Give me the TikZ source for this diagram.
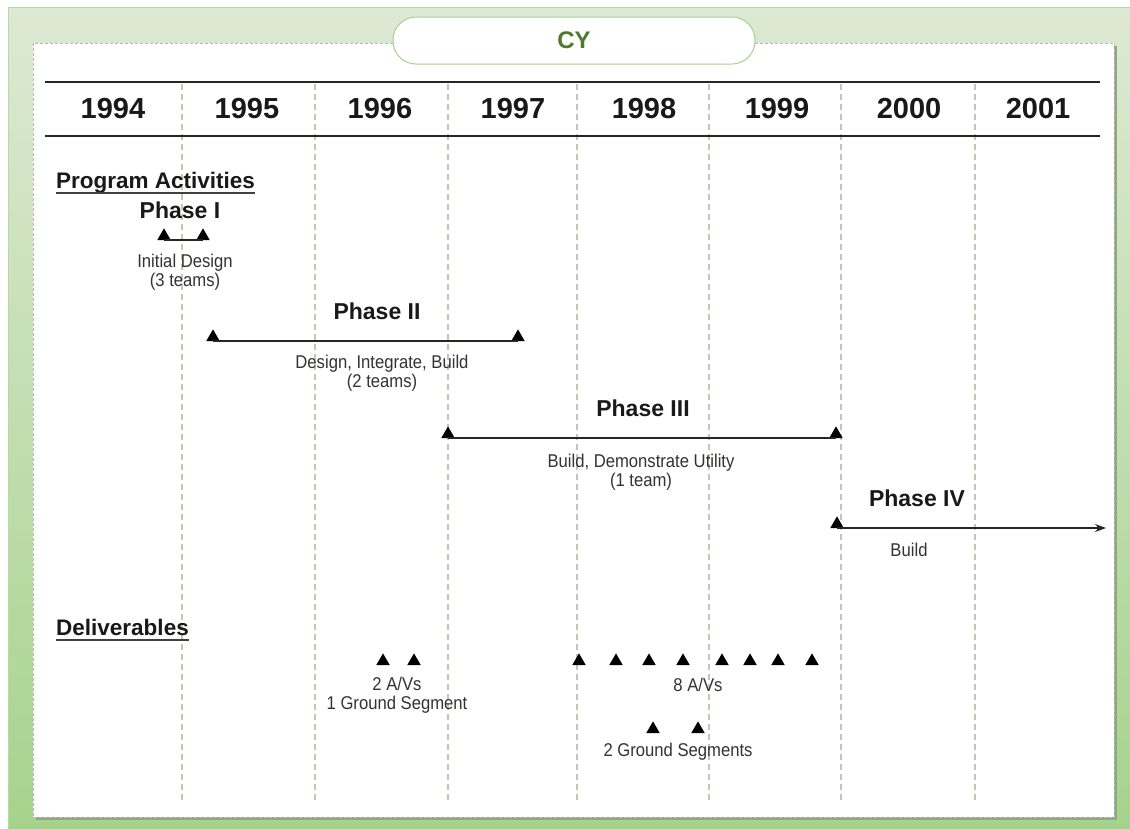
\documentclass[tikz,border=0pt]{standalone}
\usepackage{fontspec}
\setmainfont{Liberation Sans}
\newfontfamily\narrowfont[FakeStretch=0.9]{Liberation Sans}
\usepackage{xcolor}
\usetikzlibrary{shapes.geometric,arrows.meta}
\definecolor{bgtop}{HTML}{DDE9D3}
\definecolor{bgbot}{HTML}{A6D28C}
\definecolor{bgedge}{HTML}{B7D9A3}
\definecolor{shadowcol}{HTML}{8FA882}
\definecolor{tabcol}{HTML}{A9CF94}
\definecolor{cytext}{HTML}{4E7A2F}
\definecolor{gridcol}{HTML}{C6C4B2}

\begin{document}
\begin{tikzpicture}[
    x=1pt, y=-1pt,
    year/.style={font=\fontsize{29}{30}\selectfont\bfseries, text=black!90},
    phase/.style={font=\fontsize{23}{24}\selectfont\bfseries, text=black!90},
    heading/.style={font=\fontsize{22.5}{24}\selectfont\bfseries, text=black!90, inner sep=0pt, text depth=5pt, anchor=base west},
    note/.style={font=\narrowfont\fontsize{18.5}{19}\selectfont, text=black!80, align=center, inner sep=0pt},
    tri/.style={regular polygon, regular polygon sides=3, fill=black, draw=none, inner sep=0pt, outer sep=0pt, minimum size=15.5pt, anchor=south},
    span/.style={line width=1.3pt, draw=black!85},
    grid/.style={dash pattern=on 6pt off 4pt, draw=gridcol, line width=1.1pt},
    tab/.style={draw=tabcol, fill=white, line width=1pt, rounded corners=23pt, minimum width=362pt, minimum height=47pt, font=\fontsize{24}{24}\selectfont\bfseries, text=cytext},
    ]
  \clip (0,0) rectangle (1130,828);
  % frame and panel
  \shade [top color=bgtop, bottom color=bgbot, draw=bgedge] (8,7) rectangle (1140,840);
  \fill [shadowcol] (36,46) rectangle (1117,820);
  \draw [fill=white, draw=gray!55, dash pattern=on 3pt off 2pt, line width=0.6pt] (33,43) rectangle (1114,817);
  \node [tab] (cy) at (574,40.5) {CY};

  % year header
  \foreach \x in {182,315,448,577,709,841,975}
    \draw [grid] (\x,84) -- (\x,802);
  \draw [line width=1.3pt, black!85] (45,82) -- (1100,82);
  \draw [line width=1.3pt, black!85] (45,136) -- (1100,136);
  \foreach \yr/\x in {1994/113,1995/247,1996/380,1997/513,1998/644,1999/777,2000/909,2001/1038}
    \node [year] (y\yr) at (\x,109) {\yr};

  % program activities
  \node [heading] (act) at (56,188) {Program Activities};
  \draw [line width=1.6pt, black!75] (act.south west) -- (act.south east);

  \node [phase] (ph1) at (180,210) {Phase I};
  \node [tri] (p1a) at (164,240) {};
  \node [tri] (p1b) at (203,240) {};
  \draw [span] (p1a.south) -- (p1b.south);
  \node [note] (n1) at (185,272) {Initial Design\\(3 teams)};

  \node [phase] (ph2) at (377,311) {Phase II};
  \node [tri] (p2a) at (213,341) {};
  \node [tri] (p2b) at (518,341) {};
  \draw [span] (p2a.south) -- (p2b.south);
  \node [note] (n2) at (382,373) {Design, Integrate, Build\\(2 teams)};

  \node [phase] (ph3) at (643,408) {Phase III};
  \node [tri] (p3a) at (448,438) {};
  \node [tri] (p3b) at (836,438) {};
  \draw [span] (p3a.south) -- (p3b.south);
  \node [note] (n3) at (641,472) {Build, Demonstrate Utility\\(1 team)};

  \node [phase] (ph4) at (917,498) {Phase IV};
  \node [tri] (p4a) at (837,528) {};
  \coordinate (p4end) at (1106,528);
  \draw [span, -{Stealth[length=11pt,width=8pt]}] (p4a.south) -- (p4end);
  \node [note] (n4) at (909,550) {Build};

  % deliverables
  \node [heading] (del) at (56,635) {Deliverables};
  \draw [line width=1.6pt, black!75] (del.south west) -- (del.south east);

  \node [tri] (d1) at (383,665) {};
  \node [tri] (d2) at (414,665) {};
  \node [note] (n5) at (397,695) {2 A/Vs\\1 Ground Segment};

  \foreach \x [count=\i] in {579,616,649,683,722,750,778,812}
    \node [tri] (av\i) at (\x,665) {};
  \node [note] (n6) at (698,685) {8 A/Vs};

  \node [tri] (g1) at (653,733) {};
  \node [tri] (g2) at (698,733) {};
  \node [note] (n7) at (678,752) {2 Ground Segments};
\end{tikzpicture}
\end{document}
